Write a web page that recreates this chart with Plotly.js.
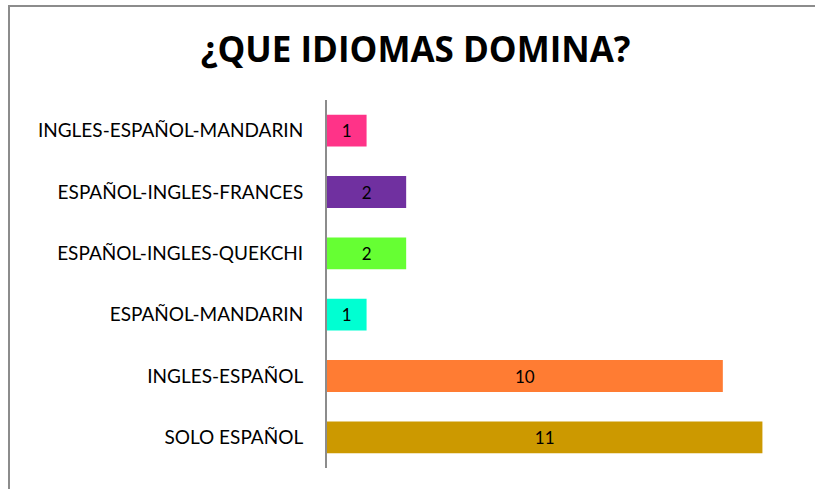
<!DOCTYPE html>
<html>
<head>
<meta charset="utf-8">
<script src="https://cdn.plot.ly/plotly-3.0.1.min.js"></script>
<style>
html,body{margin:0;padding:0;background:#fff;}
#wrap{position:relative;width:815px;height:489px;}
#chart{position:absolute;left:0;top:0;width:815px;height:489px;}
#frame{position:absolute;left:8px;top:5px;width:807px;height:484px;border-top:2px solid #8c8c8c;border-left:2px solid #8c8c8c;box-sizing:border-box;pointer-events:none;}
</style>
</head>
<body>
<div id="wrap"><div id="chart"></div><div id="frame"></div></div>
<script>
const categories = ["SOLO ESPAÑOL","INGLES-ESPAÑOL","ESPAÑOL-MANDARIN","ESPAÑOL-INGLES-QUEKCHI","ESPAÑOL-INGLES-FRANCES","INGLES-ESPAÑOL-MANDARIN"];
const values = [11,10,1,2,2,1];
const colors = ["#CC9900","#FF7C33","#00FFD2","#66FF33","#7030A0","#FF3388"];

const trace = {
  type: "bar",
  orientation: "h",
  y: categories,
  x: values,
  marker: {color: colors},
  text: values.map(String),
  textposition: "inside",
  insidetextanchor: "middle",
  textfont: {family: "Lato, 'Open Sans', sans-serif", size: 17, color: "#000"},
  hoverinfo: "none"
};

const layout = {
  width: 815, height: 489,
  margin: {l: 327, r: 13, t: 100, b: 21},
  paper_bgcolor: "#fff", plot_bgcolor: "#fff",
  title: {text: "<b>¿QUE IDIOMAS DOMINA?</b>", x: 0.51, xanchor: "center", y: 0.898, yanchor: "middle",
          font: {family: "'Open Sans', Lato, sans-serif", size: 35, color: "#000"}},
  bargap: 0.48,
  showlegend: false,
  xaxis: {range: [0, 12], showgrid: false, zeroline: false, showline: false, showticklabels: false, ticks: ""},
  yaxis: {type: "category", showgrid: false, zeroline: false, showline: true, linecolor: "#8c8c8c", linewidth: 2,
          ticks: "", ticklabelstandoff: 18,
          tickfont: {family: "Lato, 'Open Sans', sans-serif", size: 19, color: "#000"}}
};

Plotly.newPlot("chart", [trace], layout, {staticPlot: true, displayModeBar: false});
</script>
</body>
</html>
